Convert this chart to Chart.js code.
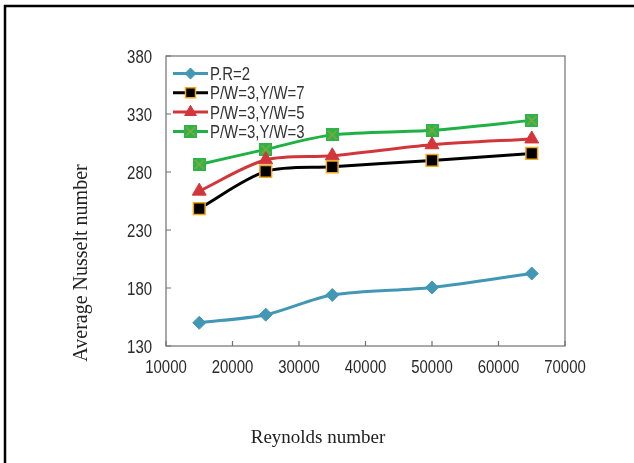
<!DOCTYPE html>
<html>
<head>
<meta charset="utf-8">
<script src="https://cdn.jsdelivr.net/npm/chart.js@4.4.1/dist/chart.umd.min.js"></script>
<style>
  html, body { margin: 0; padding: 0; background: #fff; }
  #wrap { position: relative; width: 634px; height: 463px; }
</style>
</head>
<body>
<div id="wrap"><canvas id="nusselt" width="634" height="463"></canvas></div>
<script>
// Reynolds numbers (x) and average Nusselt numbers
const reynolds = [15000, 25000, 35000, 50000, 65000];
const seriesNames = ['P.R=2', 'P/W=3,Y/W=7', 'P/W=3,Y/W=5', 'P/W=3,Y/W=3'];
const nuPR2 = [150, 157, 174, 180.5, 192.5];
const nuYW7 = [248.5, 280.5, 284.5, 290, 296];
const nuYW5 = [263.5, 290.5, 294, 303.5, 308.5];
const nuYW3 = [286.5, 299.5, 312, 316, 324.5];
const xTicks = [10000, 20000, 30000, 40000, 50000, 60000, 70000];
const yTicks = [130, 180, 230, 280, 330, 380];

const SANS = '"Liberation Sans", Arial, sans-serif';
const SERIF = '"Liberation Serif", "Times New Roman", serif';
const NARROW = 0.83; // the figure uses a condensed sans face

// green square with a cross, like the excel marker
const makeGreenMarker = () => {
    const c = document.createElement('canvas');
    c.width = 13; c.height = 13;
    const g = c.getContext('2d');
    g.fillStyle = '#2db34a';
    g.fillRect(0, 0, 13, 13);
    g.strokeStyle = '#86a83a';
    g.lineWidth = 1.6;
    g.beginPath();
    g.moveTo(2, 2); g.lineTo(11, 11);
    g.moveTo(11, 2); g.lineTo(2, 11);
    g.stroke();
    return c;
};
const greenMarker = makeGreenMarker();

const toPoints = (vals) => vals.map((v, i) => ({ x: reynolds[i], y: v }));

const datasets = [
    { label: seriesNames[0], data: toPoints(nuPR2), borderColor: '#4297b5', backgroundColor: '#4297b5',
      pointStyle: 'rectRot', pointRadius: 6.5, pointBorderWidth: 1, pointBorderColor: '#4297b5' },
    { label: seriesNames[1], data: toPoints(nuYW7), borderColor: '#000000', backgroundColor: '#000000',
      pointStyle: 'rect', pointRadius: 8.3, pointBorderWidth: 1.5, pointBorderColor: '#f2a81d' },
    { label: seriesNames[2], data: toPoints(nuYW5), borderColor: '#d2363a', backgroundColor: '#d2363a',
      pointStyle: 'triangle', pointRadius: 8, pointBorderWidth: 1, pointBorderColor: '#d2363a' },
    { label: seriesNames[3], data: toPoints(nuYW3), borderColor: '#1fb143', backgroundColor: '#1fb143',
      pointStyle: greenMarker, pointRadius: 6, pointBorderWidth: 0 },
];
datasets.forEach(ds => {
    ds.borderWidth = 3;
    ds.tension = 0.3;
    ds.fill = false;
});

// draws text squeezed horizontally around its anchor
const narrowText = (ctx, text, x, y, align) => {
    ctx.save();
    ctx.translate(x, y);
    ctx.scale(NARROW, 1);
    ctx.textAlign = align;
    ctx.fillText(text, 0, 0);
    ctx.restore();
};

/**
 * frame, plot box, inward ticks, tick labels, legend and axis titles
 */
const figurePlugin = {
    id: 'figure',
    beforeDraw: (chart) => {
        const ctx = chart.ctx;
        ctx.save();
        ctx.strokeStyle = '#000';
        ctx.lineWidth = 2.5;
        ctx.beginPath();
        ctx.moveTo(5, chart.height);
        ctx.lineTo(5, 6);
        ctx.lineTo(chart.width, 6);
        ctx.stroke();
        ctx.restore();
    },
    afterDraw: (chart) => {
        const ctx = chart.ctx;
        const area = chart.chartArea;
        const xs = chart.scales.x;
        const ys = chart.scales.y;
        ctx.save();
        ctx.strokeStyle = '#707070';
        ctx.lineWidth = 1.2;
        ctx.strokeRect(area.left, area.top, area.right - area.left, area.bottom - area.top);
        ctx.beginPath();
        for (const t of xTicks) {
            const px = xs.getPixelForValue(t);
            ctx.moveTo(px, area.bottom);
            ctx.lineTo(px, area.bottom - 5);
        }
        for (const t of yTicks) {
            const py = ys.getPixelForValue(t);
            ctx.moveTo(area.left, py);
            ctx.lineTo(area.left + 5, py);
        }
        ctx.stroke();

        // tick labels
        ctx.fillStyle = '#2a2a2a';
        ctx.font = '18px ' + SANS;
        ctx.textBaseline = 'alphabetic';
        for (const t of xTicks) {
            narrowText(ctx, String(t), xs.getPixelForValue(t), area.bottom + 27, 'center');
        }
        for (const t of yTicks) {
            narrowText(ctx, String(t), area.left - 14, ys.getPixelForValue(t) + 6.5, 'right');
        }

        // legend
        chart.data.datasets.forEach((ds, i) => {
            const y = area.top + 17.5 + i * 19.3;
            const x0 = area.left + 7;
            ctx.strokeStyle = ds.borderColor;
            ctx.lineWidth = 3;
            ctx.beginPath();
            ctx.moveTo(x0, y);
            ctx.lineTo(x0 + 35, y);
            ctx.stroke();
            ctx.fillStyle = ds.backgroundColor;
            ctx.strokeStyle = ds.pointBorderColor || ds.borderColor;
            ctx.lineWidth = ds.pointBorderWidth;
            Chart.helpers.drawPoint(ctx, {
                pointStyle: ds.pointStyle, radius: ds.pointRadius * 0.85, rotation: 0, borderWidth: ds.pointBorderWidth
            }, x0 + 17.5, y);
            ctx.fillStyle = '#333';
            narrowText(ctx, ds.label, x0 + 37, y + 6.5, 'left');
        });

        // axis titles
        ctx.fillStyle = '#222';
        ctx.textAlign = 'center';
        ctx.textBaseline = 'alphabetic';
        ctx.font = '19px ' + SERIF;
        ctx.fillText('Reynolds number', area.left + 152, area.bottom + 97);
        ctx.font = '20px ' + SERIF;
        ctx.save();
        ctx.translate(area.left - 79, area.top + 207);
        ctx.rotate(-Math.PI / 2);
        ctx.fillText('Average Nusselt number', 0, 0);
        ctx.restore();
        ctx.restore();
    }
};

new Chart(document.getElementById('nusselt').getContext('2d'), {
    type: 'line',
    data: { datasets: datasets },
    options: {
        responsive: false,
        animation: false,
        layout: { padding: { left: 0, top: 56, right: 69, bottom: 0 } },
        plugins: {
            legend: { display: false },
            tooltip: { enabled: false }
        },
        scales: {
            x: {
                type: 'linear',
                min: 10000, max: 70000,
                afterBuildTicks: (scale) => { scale.ticks = xTicks.map(v => ({ value: v })); },
                afterFit: (scale) => { scale.height = 117; },
                grid: { display: false, drawTicks: false },
                border: { display: false },
                ticks: { display: false }
            },
            y: {
                min: 130, max: 380,
                afterBuildTicks: (scale) => { scale.ticks = yTicks.map(v => ({ value: v })); },
                afterFit: (scale) => { scale.width = 166; },
                grid: { display: false, drawTicks: false },
                border: { display: false },
                ticks: { display: false }
            }
        }
    },
    plugins: [figurePlugin]
});
</script>
</body>
</html>
